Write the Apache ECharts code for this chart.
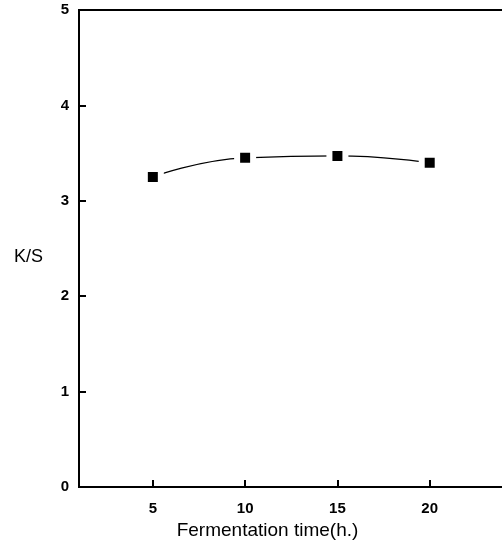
<!DOCTYPE html>
<html>
<head>
<meta charset="utf-8">
<script src="https://cdn.jsdelivr.net/npm/echarts@6/dist/echarts.min.js"></script>
<style>html,body{margin:0;padding:0;background:#fff}#c{width:502px;height:550px}</style>
</head>
<body>
<div id="c"></div>
<script>
const times = [5, 10, 15, 20];
const ksValues = [3.25, 3.45, 3.47, 3.40];
const xTicks = [5, 10, 15, 20];
const yTicks = [0, 1, 2, 3, 4, 5];

const chart = echarts.init(document.getElementById('c'));
const font = 'Liberation Sans, Arial, sans-serif';
chart.setOption({
  animation: false,
  backgroundColor: '#fff',
  grid: {left: 79, top: 10, width: 443, height: 477, outerBoundsMode: 'none', containLabel: false,
    show: true, borderColor: '#000', borderWidth: 2, backgroundColor: 'transparent'},
  xAxis: {
    type: 'value', min: 1, max: 25, interval: 5,
    name: 'Fermentation time(h.)', nameLocation: 'middle', nameGap: 34,
    nameTextStyle: {fontFamily: font, fontSize: 19, color: '#000', padding: [0, 66, 0, 0]},
    axisLine: {show: true, onZero: false, lineStyle: {color: '#000', width: 2}},
    axisTick: {show: true, inside: true, length: 7, lineStyle: {color: '#000', width: 2},
      customValues: xTicks},
    axisLabel: {fontFamily: font, fontSize: 15, fontWeight: 'bold', color: '#000', margin: 14,
      customValues: xTicks},
    splitLine: {show: false}
  },
  yAxis: {
    type: 'value', min: 0, max: 5, interval: 1,
    name: 'K/S', nameLocation: 'middle', nameGap: 36, nameRotate: 0,
    nameTextStyle: {fontFamily: font, fontSize: 18, color: '#000', verticalAlign: 'top'},
    axisLine: {show: true, lineStyle: {color: '#000', width: 2}},
    axisTick: {show: true, inside: true, length: 7, lineStyle: {color: '#000', width: 2}},
    axisLabel: {fontFamily: font, fontSize: 15, fontWeight: 'bold', color: '#000', margin: 10},
    splitLine: {show: false}
  },
  series: [{
    type: 'line', smooth: true,
    data: times.map((t, i) => [t, ksValues[i]]),
    symbol: 'rect', symbolSize: 16,
    lineStyle: {color: '#000', width: 1.3},
    itemStyle: {color: '#000', borderColor: '#fff', borderWidth: 6}
  }]
});
</script>
</body>
</html>
